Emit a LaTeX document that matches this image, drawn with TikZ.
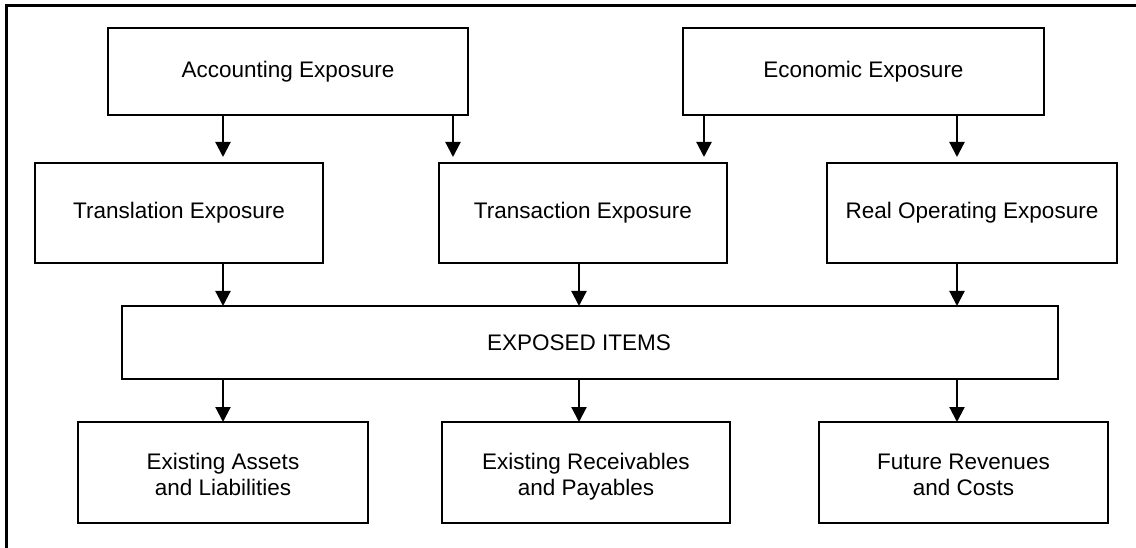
\documentclass[tikz,border=0pt]{standalone}
\usepackage{fontspec}
\setmainfont{Liberation Sans}
\usetikzlibrary{arrows.meta}
\newcommand{\topstrut}{\rule[-7.8pt]{0pt}{35pt}}
\begin{document}
\begin{tikzpicture}[x=1pt,y=-1pt,
  box/.style={draw=black,line width=2.2pt,rectangle,outer sep=0pt,inner sep=0pt,
    font=\fontsize{22.5}{26}\selectfont,align=center},
  arr/.style={line width=2.2pt,-{Triangle[length=15pt,width=15pt]}},
  lbl/.style={font=\fontsize{22.5}{26}\selectfont,inner sep=0pt}]
\useasboundingbox (0,0) rectangle (1136,548);
\fill[white] (0,0) rectangle (1136,548);
\draw[line width=2.2pt] (6.5,560) -- (6.5,5.5) -- (1150,5.5);
% top row
\node[box,minimum width=360pt,minimum height=87pt] (acc) at (288,71.5) {Accounting Exposure};
\node[box,minimum width=361pt,minimum height=87pt] (eco) at (863.5,71.5) {Economic Exposure};
% second row
\node[box,minimum width=288pt,minimum height=100pt] (trl) at (179,213) {Translation Exposure};
\node[box,minimum width=288pt,minimum height=100pt] (trn) at (583,213) {Transaction Exposure};
\node[box,minimum width=290pt,minimum height=100pt] (rop) at (972,213) {Real Operating Exposure};
% exposed items
\node[box,minimum width=936pt,minimum height=73pt] (exp) at (590,342.5) {};
\node[lbl] (expt) at (579,342.5) {EXPOSED ITEMS};
% bottom row
\node[box,minimum width=290pt,minimum height=101pt] (ea) at (223,472.5) {\topstrut Existing Assets\\and Liabilities\strut};
\node[box,minimum width=288pt,minimum height=101pt] (er) at (586,472.5) {\topstrut Existing Receivables\\and Payables\strut};
\node[box,minimum width=289pt,minimum height=101pt] (fr) at (963.5,472.5) {\topstrut Future Revenues\\and Costs\strut};
% x positions
\coordinate (xa) at (223,0);
\coordinate (xb) at (453,0);
\coordinate (xc) at (704,0);
\coordinate (xd) at (957,0);
\coordinate (xm) at (579,0);
% top arrows
\draw[arr,shorten >=6pt] (acc.south -| xa) -- (trl.north -| xa);
\draw[arr,shorten >=6pt] (acc.south -| xb) -- (trn.north -| xb);
\draw[arr,shorten >=6pt] (eco.south -| xc) -- (trn.north -| xc);
\draw[arr,shorten >=6pt] (eco.south -| xd) -- (rop.north -| xd);
% middle arrows
\draw[arr] (trl.south -| xa) -- (exp.north -| xa);
\draw[arr] (trn.south -| xm) -- (exp.north -| xm);
\draw[arr] (rop.south -| xd) -- (exp.north -| xd);
% bottom arrows
\draw[arr] (exp.south -| xa) -- (ea.north -| xa);
\draw[arr] (exp.south -| xm) -- (er.north -| xm);
\draw[arr] (exp.south -| xd) -- (fr.north -| xd);
\end{tikzpicture}
\end{document}
